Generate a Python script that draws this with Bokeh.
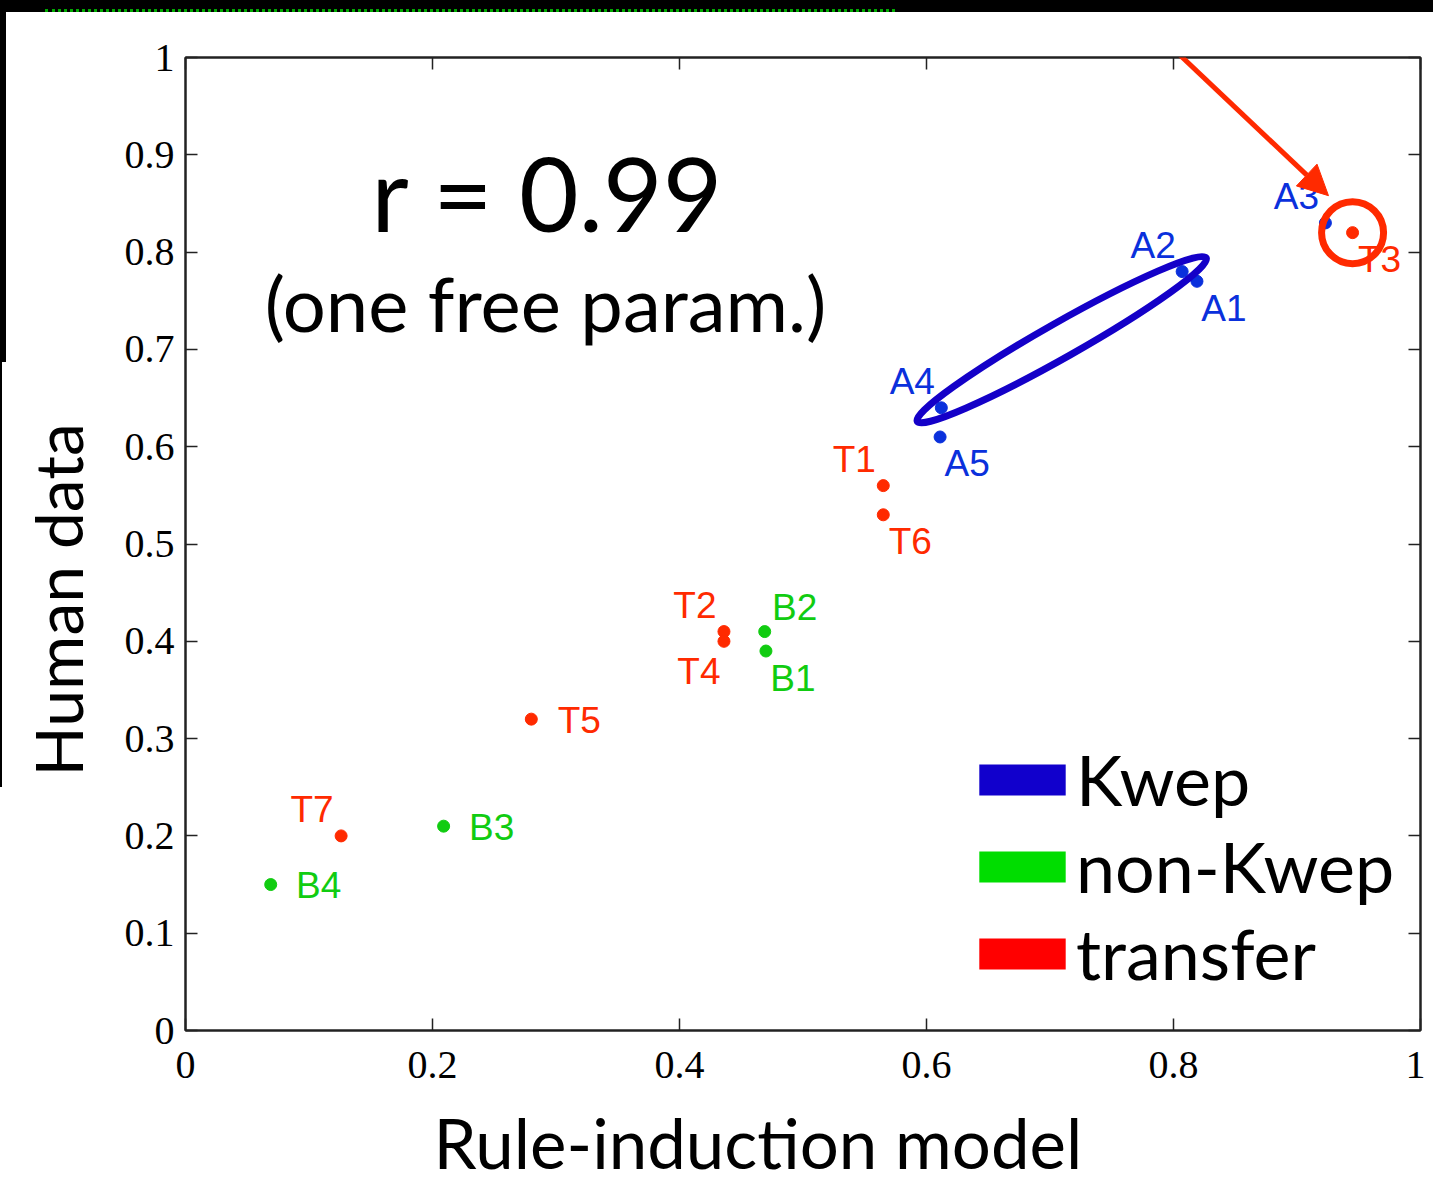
import math
from bokeh.plotting import figure
from bokeh.layouts import column
from bokeh.models import (Range1d, FixedTicker, LinearAxis, Label, Legend, LegendItem,
                          Arrow, NormalHead, ColumnDataSource, Title, Div)
from bokeh.embed import file_html
from bokeh.resources import INLINE
from bokeh.core.properties import value

# ---------------- data ----------------
names = ["A1", "A2", "A3", "A4", "A5",
         "B1", "B2", "B3", "B4",
         "T1", "T2", "T3", "T4", "T5", "T6", "T7"]
model = [0.819, 0.807, 0.923, 0.612, 0.611,
         0.470, 0.469, 0.209, 0.069,
         0.565, 0.436, 0.945, 0.436, 0.280, 0.565, 0.126]
human = [0.77, 0.78, 0.83, 0.64, 0.61,
         0.39, 0.41, 0.21, 0.15,
         0.56, 0.41, 0.82, 0.40, 0.32, 0.53, 0.20]
group = ["Kwep"] * 5 + ["non-Kwep"] * 4 + ["transfer"] * 7
placement = ["lr", "ul", "ul", "ul", "lr",
             "lr", "ur", "r", "r",
             "ul", "ul", "lr", "ll", "r", "lr", "ul"]
groups = ["Kwep", "non-Kwep", "transfer"]
x_ticks = [0, 0.2, 0.4, 0.6, 0.8, 1]
x_tick_labels = ["0", "0.2", "0.4", "0.6", "0.8", "1"]
y_ticks = [0, 0.1, 0.2, 0.3, 0.4, 0.5, 0.6, 0.7, 0.8, 0.9, 1]
y_tick_labels = ["0", "0.1", "0.2", "0.3", "0.4", "0.5", "0.6", "0.7", "0.8", "0.9", "1"]
highlight = "T3"
ellipse_ends = ("A4", "A2")

# ---------------- styles ----------------
point_color = {"Kwep": "#0a30dc", "non-Kwep": "#11cc11", "transfer": "#ff2a00"}
legend_color = {"Kwep": "#1100cc", "non-Kwep": "#00dd00", "transfer": "#ff0000"}
offsets = {"ul": (-29, -26), "lr": (27, 27), "ll": (-25, 30), "ur": (30, -24), "r": (48, 1)}
NAN = float("nan")

FW, FH = 1235, 973
SHIFT = 8  # part of the left border pushed off the page
band = Div(text='<div style="margin-left:45px;width:850px;border-top:3px dotted #00aa00;'
                'margin-top:1px"></div>'
                '<div style="position:absolute;left:0;top:12px;width:6px;height:350px;'
                'background:black;z-index:10"></div>'
                '<div style="position:absolute;left:0;top:362px;width:2px;height:425px;'
                'background:black;z-index:10"></div>',
           width=1433, height=12, margin=0,
           styles={"background-color": "black", "overflow": "visible", "z-index": "10"})

p = figure(frame_width=FW, frame_height=FH, output_backend="svg", toolbar_location=None,
           x_range=Range1d(0, 1), y_range=Range1d(0, 1),
           min_border_left=185 + SHIFT, min_border_right=5, min_border_top=45,
           min_border_bottom=165, margin=(0, 0, 0, -SHIFT))
p.xgrid.visible = False
p.ygrid.visible = False
p.background_fill_color = "white"
p.border_fill_color = "white"
p.outline_line_color = "#222222"
p.outline_line_width = 2

p.add_layout(LinearAxis(), "above")
p.add_layout(LinearAxis(), "right")


def style_axis(ax, ticks, labels, show, standoff):
    ax.ticker = FixedTicker(ticks=ticks)
    ax.major_label_overrides = {t: (l if show else "") for t, l in zip(ticks, labels)}
    ax.major_tick_in = 12
    ax.major_tick_out = 0
    ax.minor_tick_in = 0
    ax.minor_tick_out = 0
    ax.axis_line_width = 2
    ax.axis_line_color = "#222222"
    ax.major_tick_line_width = 1.5
    ax.major_tick_line_color = "#222222"
    ax.major_label_text_font = "Liberation Serif"
    ax.major_label_text_font_size = "40px" if show else "1px"
    ax.major_label_text_color = "black"
    ax.major_label_standoff = standoff


for ax in p.below:
    style_axis(ax, x_ticks, x_tick_labels, True, 21)
for ax in p.above:
    style_axis(ax, x_ticks, x_tick_labels, False, 0)
for ax in p.left:
    style_axis(ax, y_ticks, y_tick_labels, True, 11)
for ax in p.right:
    style_axis(ax, y_ticks, y_tick_labels, False, 0)

# axis titles (placed as titles so they can be shifted along the axis)
p.add_layout(Title(text="Rule-induction model", align="left", offset=248, standoff=37,
                   text_font="Lato", text_font_size="69px", text_font_style="normal",
                   text_color="black"), "below")
p.add_layout(Title(text="Human data", align="left", vertical_align="top", offset=254,
                   standoff=46, text_font="Lato", text_font_size="66px",
                   text_font_style="normal", text_color="black"), "left")

# ---------------- points + labels ----------------
src = ColumnDataSource(dict(
    x=model, y=human, name=names,
    color=[point_color[g] for g in group],
    dx=[offsets[k][0] for k in placement],
    dy=[offsets[k][1] for k in placement],
))
p.scatter("x", "y", source=src, size=12, color="color")
p.text("x", "y", text="name", source=src, x_offset="dx", y_offset="dy",
       text_color="color", text_font=value("Liberation Sans"), text_font_size="37px",
       text_align="center", text_baseline="middle")

# ellipse around A4..A2
i0, i1 = names.index(ellipse_ends[0]), names.index(ellipse_ends[1])
cx = (model[i0] + model[i1]) / 2
cy = (human[i0] + human[i1]) / 2
ang = math.atan2((human[i1] - human[i0]) * FH, (model[i1] - model[i0]) * FW)
p.ellipse(x=[cx], y=[cy], width=332, height=35, angle=ang,
          width_units="screen", height_units="screen",
          fill_color=None, line_color="#1400c8", line_width=7)

# highlight circle on T3
ih = names.index(highlight)
p.scatter(x=[model[ih]], y=[human[ih]], size=62, marker="circle",
          fill_color=None, line_color="#ff2a00", line_width=7)

# arrow pointing at the highlighted point
p.add_layout(Arrow(x_start=0.749, y_start=1.07, x_end=0.9255, y_end=0.858,
                   line_color="#ff2a00", line_width=5,
                   end=NormalHead(size=30, fill_color="#ff2a00", line_color="#ff2a00")))

# ---------------- legend ----------------
items = []
for g in groups:
    r = p.quad(left=[NAN], right=[NAN], top=[NAN], bottom=[NAN],
               fill_color=legend_color[g], line_color=None)
    items.append(LegendItem(label=g, renderers=[r]))
legend = Legend(items=items, location=(783, 35), glyph_width=108, glyph_height=39,
                label_text_font="Lato", label_text_font_size="70px", label_text_color="black",
                label_standoff=0, spacing=3, padding=0, margin=0,
                border_line_color=None, background_fill_alpha=0)
p.add_layout(legend)

# ---------------- texts ----------------
p.add_layout(Label(x=0.2935, y=0.862, text="r = 0.99", text_font="Lato",
                   text_font_size="103px", text_font_style="normal",
                   text_align="center", text_baseline="alphabetic", text_color="black"))
p.add_layout(Label(x=0.2915, y=0.748, text="(one free param.)", text_font="Lato",
                   text_font_size="76px", text_font_style="normal",
                   text_align="center", text_baseline="alphabetic", text_color="black"))

layout = column(band, p, spacing=0)
open("out.html", "w").write(file_html(layout, INLINE))
